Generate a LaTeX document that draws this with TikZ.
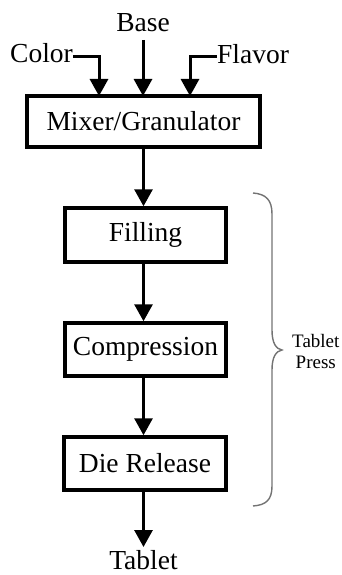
\documentclass[tikz,border=0pt]{standalone}
\usepackage{fontspec}
\setmainfont{Liberation Serif}
\usetikzlibrary{arrows.meta}
\begin{document}
\begin{tikzpicture}[x=1pt,y=-1pt,
  stagebox/.style={draw,line width=3.5pt,inner sep=0pt,
    font=\fontsize{27.5}{32}\selectfont},
  lbl/.style={inner sep=0pt,font=\fontsize{27.5}{32}\selectfont},
  arr/.style={line width=3pt,-{Triangle[length=17pt,width=18pt]}},
  bracestyle/.style={draw=black!55,line width=1.4pt}]
\useasboundingbox (0,0) rectangle (341,575);

% inputs
\node[lbl,anchor=base] (base) at (143,32) {Base};
\node[lbl,anchor=base east] (color) at (73,63) {Color};
\node[lbl,anchor=base west] (flavor) at (217,64) {Flavor};

% process stages
\node[stagebox,minimum width=233pt,minimum height=51pt] (mixer) at (143.5,121.5) {Mixer/Granulator};
\node[stagebox,minimum width=161pt,minimum height=54pt] (fill) at (145.5,235) {Filling};
\node[stagebox,minimum width=161pt,minimum height=53pt] (comp) at (145.5,349.5) {Compression};
\node[stagebox,minimum width=162pt,minimum height=53pt] (die) at (145,463.5) {Die Release};
\node[lbl,anchor=base] (tablet) at (143.5,569) {Tablet};

% feed points on top of the mixer
\coordinate (cin) at (99,96);
\coordinate (bin) at (143,96);
\coordinate (fin) at (190,96);
\coordinate (bstart) at (143,40);

\draw[arr] (color.east |- 0,57) -| (cin);
\draw[arr] (bstart) -- (bin);
\draw[arr] (flavor.west |- 0,57) -| (fin);

% flow between stages
\draw[arr] (mixer.south -| 143.5,0) -- (fill.north -| 143.5,0);
\draw[arr] (fill.south -| 143.5,0) -- (comp.north -| 143.5,0);
\draw[arr] (comp.south -| 143.5,0) -- (die.north -| 143.5,0);
\draw[arr] (die.south -| 143.5,0) -- (143.5,547);

% brace grouping the tablet press stages
\coordinate (btop) at (253,193);
\coordinate (bbot) at (253,506);
\coordinate (btip) at (282,350);
\draw[bracestyle] (btop) .. controls (266,194) and (272,200) .. (272,214)
  -- (272,330) .. controls (272,343) and (276,349) .. (btip)
  .. controls (276,351) and (272,357) .. (272,370)
  -- (272,486) .. controls (272,500) and (266,505) .. (bbot);
\node[inner sep=0pt,align=center,font=\fontsize{19}{21}\selectfont,anchor=west] (press) at (292,351) {Tablet\\Press};
\end{tikzpicture}
\end{document}
